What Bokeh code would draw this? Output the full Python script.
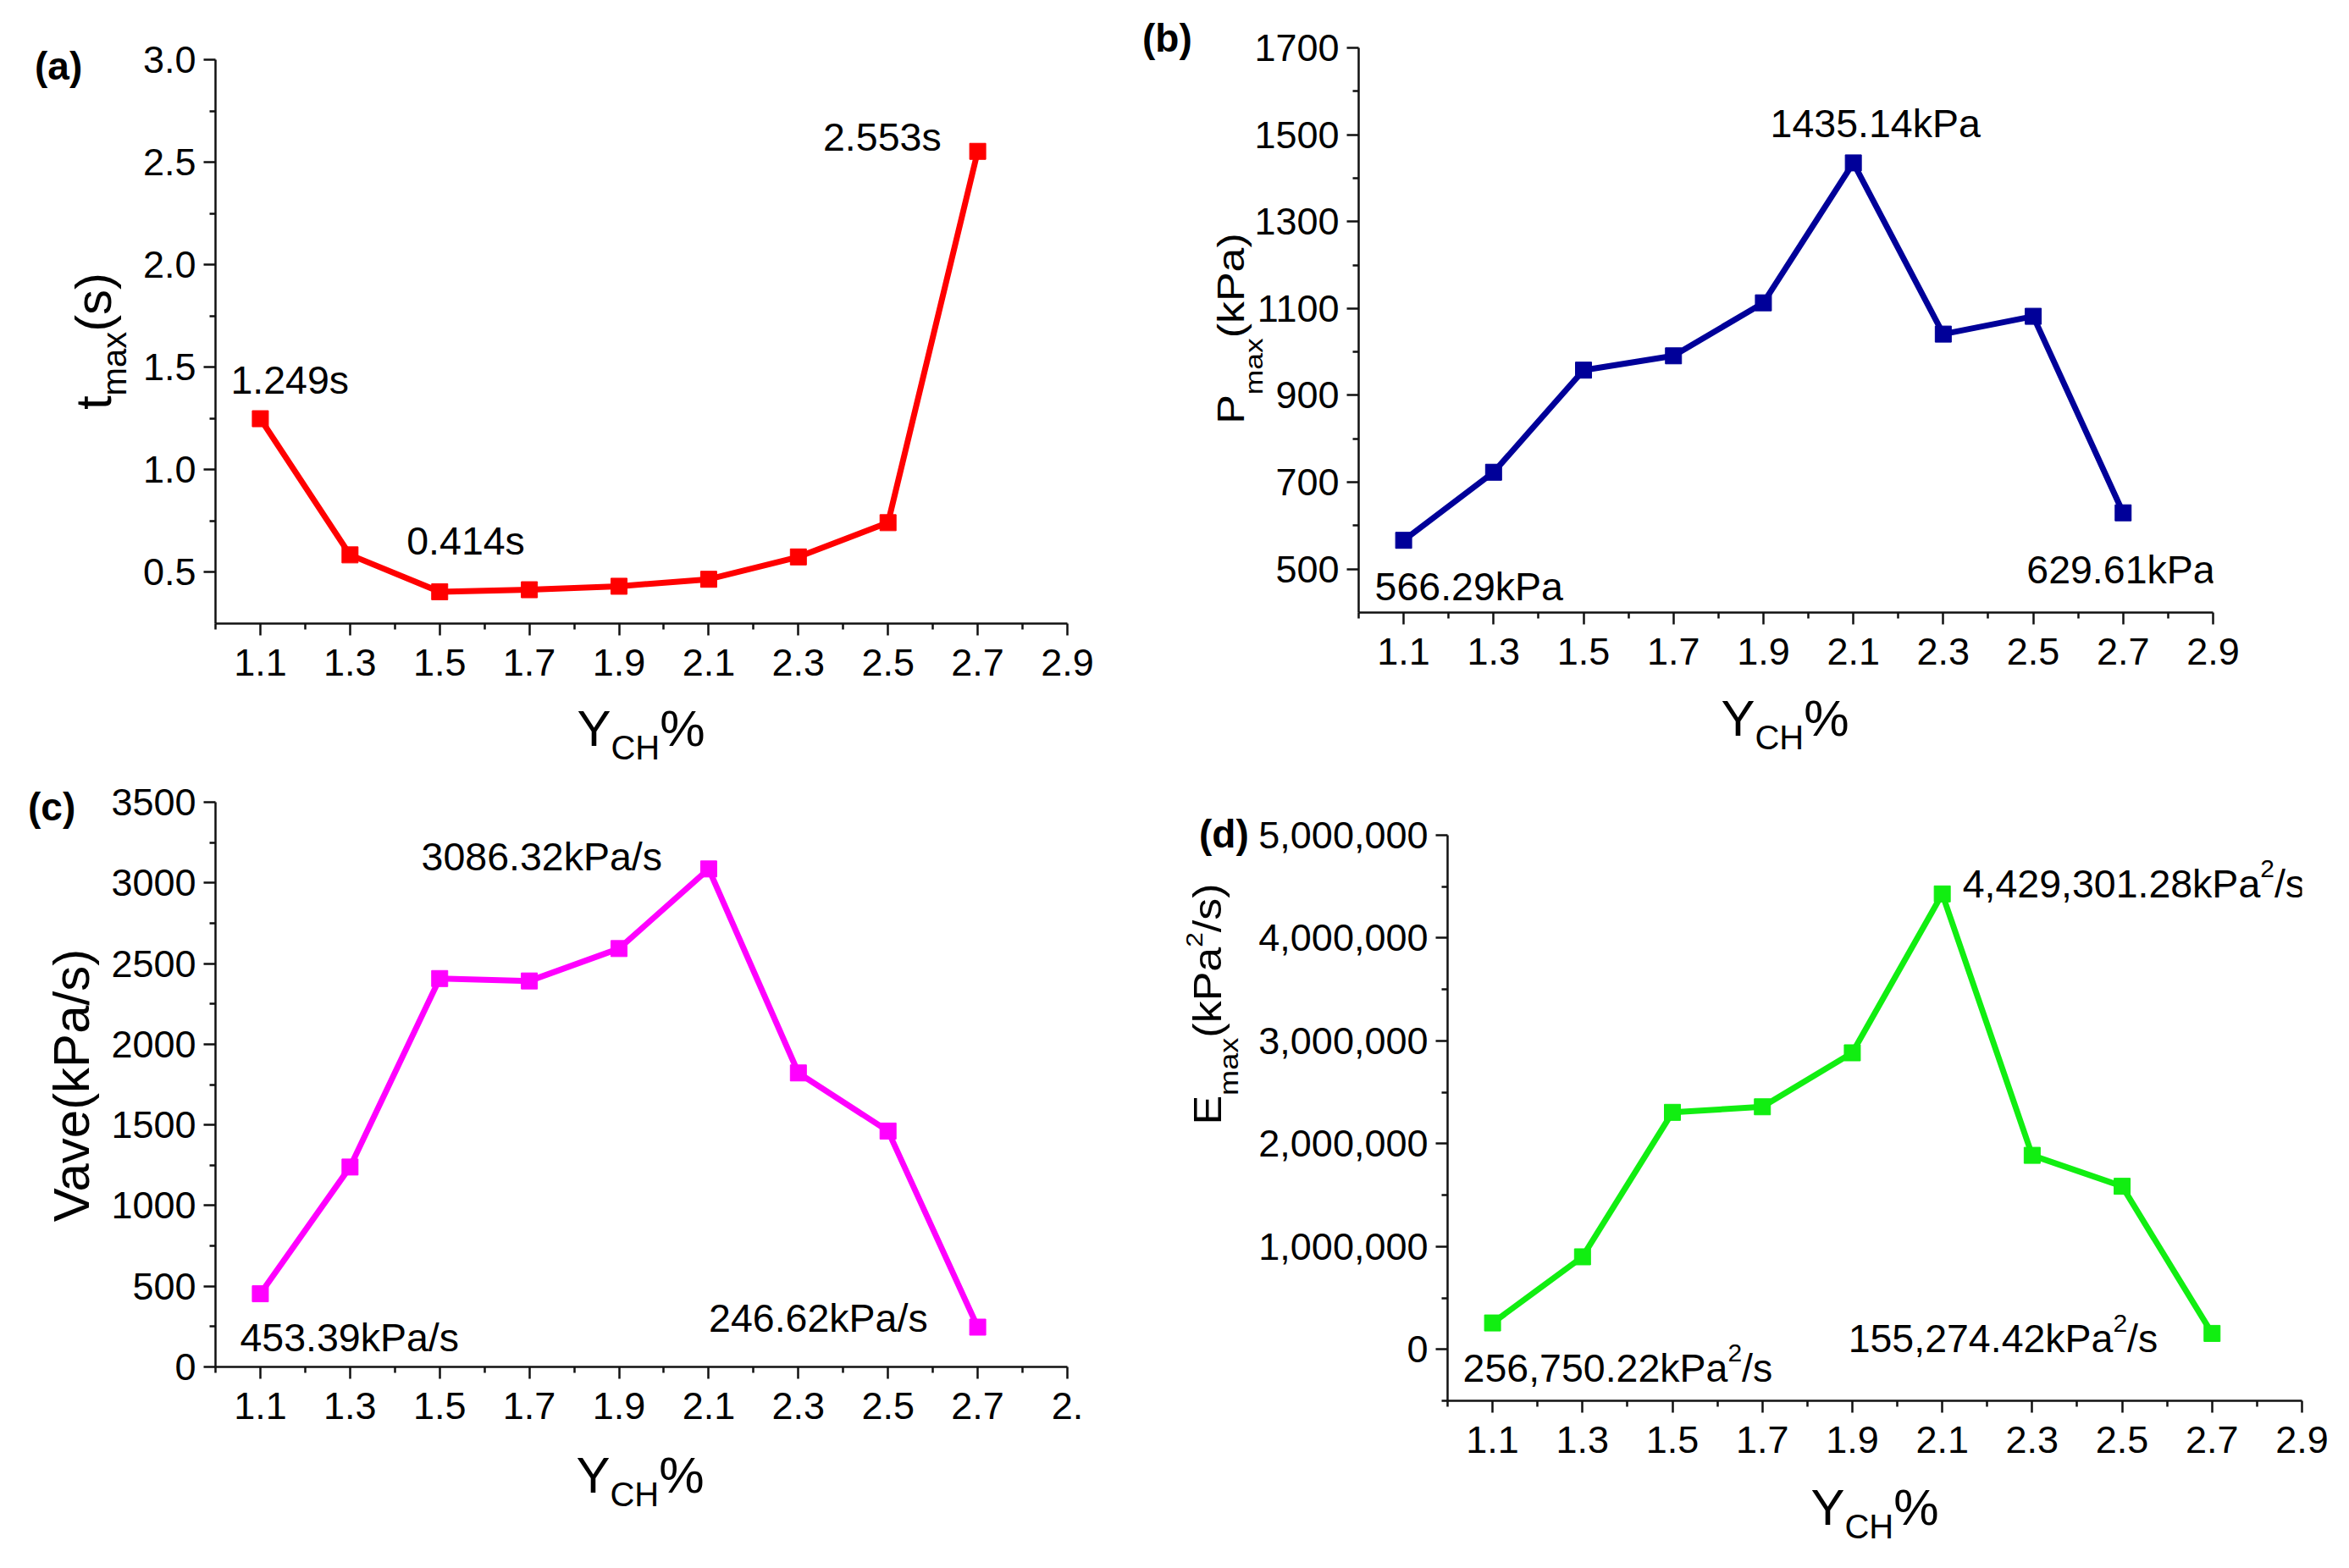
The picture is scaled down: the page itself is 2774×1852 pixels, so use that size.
from bokeh.plotting import figure
from bokeh.models import Range1d, FixedTicker, Label, NumeralTickFormatter, Row, Column, Div
from bokeh.embed import file_html
from bokeh.resources import INLINE

FONT = "Liberation Sans"

# data
y_ch = [1.1, 1.3, 1.5, 1.7, 1.9, 2.1, 2.3, 2.5, 2.7]
t_max = [1.249, 0.585, 0.405, 0.415, 0.432, 0.466, 0.575, 0.742, 2.553]
p_max = [566.29, 723, 958, 991, 1113, 1435.14, 1041, 1082, 629.61]
v_ave = [453.39, 1239, 2407, 2392, 2593, 3086.32, 1822, 1462, 246.62]
e_max = [256750.22, 900000, 2305000, 2359000, 2884000, 4429301.28, 1887000, 1586000, 155274.42]

x_ticks = [1.1, 1.3, 1.5, 1.7, 1.9, 2.1, 2.3, 2.5, 2.7, 2.9]
x_minor = [1.0, 1.2, 1.4, 1.6, 1.8, 2.0, 2.2, 2.4, 2.6, 2.8]

t_ticks = [0.5, 1.0, 1.5, 2.0, 2.5, 3.0]
t_minor = [0.75, 1.25, 1.75, 2.25, 2.75]
p_ticks = [500, 700, 900, 1100, 1300, 1500, 1700]
p_minor = [600, 800, 1000, 1200, 1400, 1600]
v_ticks = [0, 500, 1000, 1500, 2000, 2500, 3000, 3500]
v_minor = [250, 750, 1250, 1750, 2250, 2750, 3250]
e_ticks = [0, 1000000, 2000000, 3000000, 4000000, 5000000]
e_minor = [-500000, 500000, 1500000, 2500000, 3500000, 4500000]

# Arial / Liberation Sans advance widths (per 1000 em)
ADV = {c: 556 for c in "0123456789aekdb"}
ADV.update({",": 278, ".": 278, "/": 278, "(": 333, ")": 333, "%": 889, "t": 278,
            "m": 833, "x": 500, "s": 500, "k": 500, "v": 500, "P": 667, "V": 667,
            "E": 667, "Y": 667, "C": 722, "H": 722})

ANN = 46.5  # annotation font size
LIFT = 12   # baseline correction for Label text


def seg_width(text, size):
    return sum(ADV.get(c, 556) for c in text) * size / 1000.0


def rich(p, segs, x, y, align="left", dx=0, dy=0):
    # data-anchored label made of pieces (text, size, rise)
    total = sum(seg_width(t, s) for t, s, r in segs)
    cur = {"left": 0.0, "center": -total / 2, "right": -total}[align]
    for t, s, r in segs:
        p.add_layout(Label(x=x, y=y, text=t, x_offset=dx + cur, y_offset=dy + r + LIFT,
                           text_font=FONT, text_font_size=f"{s}px",
                           text_align="left", text_baseline="alphabetic", text_color="black"))
        cur += seg_width(t, s)


ASC = 0.8465  # baseline below the top of a line-height:1 box


def sub(t, size=40, drop=15):
    return (f'<sub style="font-size:{size}px;vertical-align:baseline;position:relative;'
            f'top:{drop}px;line-height:1;">{t}</sub>')


def sup(t, size=40, rise=24):
    return (f'<sup style="font-size:{size}px;vertical-align:baseline;position:relative;'
            f'top:-{rise}px;line-height:1;">{t}</sup>')


def htext(html, x, base, size, center=True, bold=False):
    tr = "translateX(-50%)" if center else "none"
    return (f'<span style="position:absolute;left:{x}px;top:{base - ASC * size:.1f}px;'
            f"font-family:'{FONT}';font-size:{size}px;line-height:1;white-space:nowrap;"
            f'font-weight:{"bold" if bold else "normal"};color:black;transform:{tr};">{html}</span>')


def vtext(html, base_x, cy, size, stretch=1.0):
    return (f'<span style="position:absolute;left:{base_x - ASC * size:.1f}px;top:{cy}px;'
            f"font-family:'{FONT}';font-size:{size}px;line-height:1;white-space:nowrap;color:black;"
            f'transform-origin:0 0;transform:rotate(-90deg) scale({stretch},1) translateX(-50%);">'
            f'{html}</span>')


def box(w, h, parts):
    html = f'<div style="position:relative;width:{w}px;height:{h}px;">{"".join(parts)}</div>'
    return Div(text=html, width=w, height=h, margin=0, styles={"overflow": "visible"})


def panel(ys, color, yr, yt, ym, borders, frame):
    left, right, top, bottom = borders
    fw, fh = frame
    p = figure(frame_width=fw, frame_height=fh, min_border_left=left, min_border_right=right,
               min_border_top=top, min_border_bottom=bottom,
               x_range=Range1d(1.0, 2.9), y_range=Range1d(*yr),
               output_backend="svg", toolbar_location=None, margin=0)
    p.outline_line_color = None
    p.border_fill_color = None
    p.grid.visible = False
    p.xaxis.ticker = FixedTicker(ticks=x_ticks, minor_ticks=x_minor)
    p.yaxis.ticker = FixedTicker(ticks=yt, minor_ticks=ym)
    for ax in (p.xaxis[0], p.yaxis[0]):
        ax.axis_line_width = 2.5
        ax.axis_line_color = "#111111"
        ax.major_tick_line_width = 2.5
        ax.minor_tick_line_width = 2.5
        ax.major_tick_line_color = "#111111"
        ax.minor_tick_line_color = "#111111"
        ax.major_tick_in = 0
        ax.major_tick_out = 14
        ax.minor_tick_in = 0
        ax.minor_tick_out = 7
        ax.major_label_text_font = FONT
        ax.major_label_text_font_size = "45px"
        ax.major_label_text_color = "black"
    p.xaxis.major_label_standoff = 16
    p.yaxis.major_label_standoff = 9
    p.line(y_ch, ys, line_color=color, line_width=7)
    p.scatter(y_ch, ys, marker="square", size=19, fill_color=color, line_color=color)
    return p


XLAB = "Y" + sub("CH", 40, 16) + "%"
KPA2 = [("kPa", ANN, 0), ("2", 30, 18), ("/s", ANN, 0)]

# (a)
pa = panel(t_max, "#FF0000", (0.25, 3.0), t_ticks, t_minor, (102, 42, 63, 100), (1006, 666))
pa.yaxis.formatter = NumeralTickFormatter(format="0.0")
rich(pa, [("1.249s", ANN, 0)], y_ch[0], t_max[0], dx=-35, dy=34)
rich(pa, [("0.414s", ANN, 0)], y_ch[2], t_max[2], dx=-39, dy=48)
rich(pa, [("2.553s", ANN, 0)], y_ch[8], t_max[8], align="right", dx=-43, dy=5)
la = box(142, 900, [htext("(a)", 31, 87, 46, center=False, bold=True),
                    vtext("t" + sub("max", 40, 18) + "(s)", 122, 396, 60)])
xa = box(1150, 71, [htext(XLAB, 605, 46, 60)])

# (b)
pb = panel(p_max, "#000099", (400, 1700), p_ticks, p_minor, (130, 155, 49, 100), (1009, 667))
rich(pb, [("1435.14kPa", ANN, 0)], y_ch[5], p_max[5], align="center", dx=26, dy=34)
rich(pb, [("566.29kPa", ANN, 0)], y_ch[0], p_max[0], dx=-34, dy=-67)
rich(pb, [("629.61kPa", ANN, 0)], y_ch[8], p_max[8], dx=-114, dy=-79)
lb = box(172, 900, [htext("(b)", 47, 54, 46, center=False, bold=True),
                    vtext("P" + sub("max", 30, 22) + "(kPa)", 167, 381, 44, 1.18)])
xb = box(1294, 84, [htext(XLAB, 634, 47, 60)])

# (c)
pc = panel(v_ave, "#FF00FF", (0, 3500), v_ticks, v_minor, (130, 42, 40, 100), (1006, 667))
pc.xaxis.major_label_overrides = {2.9: "2."}
rich(pc, [("3086.32kPa/s", ANN, 0)], y_ch[5], v_ave[5], align="right", dx=-55, dy=2)
rich(pc, [("453.39kPa/s", ANN, 0)], y_ch[0], v_ave[0], dx=-24, dy=-64)
rich(pc, [("246.62kPa/s", ANN, 0)], y_ch[8], v_ave[8], align="right", dx=-59, dy=-1)
lc = box(114, 929, [htext("(c)", 23, 62, 46, center=False, bold=True),
                    vtext("Vave(kPa/s)", 96, 375, 60)])
xc = box(1178, 122, [htext(XLAB, 632, 50, 60)])

# (d)
pd = panel(e_max, "#11EE11", (-500000, 5000000), e_ticks, e_minor, (230, 50, 79, 100), (1009, 668))
pd.yaxis.formatter = NumeralTickFormatter(format="0,0")
rich(pd, [("4,429,301.28", ANN, 0)] + KPA2, y_ch[5], e_max[5], dx=24, dy=0)
rich(pd, [("256,750.22", ANN, 0)] + KPA2, y_ch[0], e_max[0], dx=-35, dy=-65)
rich(pd, [("155,274.42", ANN, 0)] + KPA2, y_ch[8], e_max[8], align="right", dx=-64, dy=-18)
ld = box(177, 929, [htext("(d)", 114, 94, 46, center=False, bold=True),
                    vtext("E" + sub("max", 32, 20) + "(kPa" + sup("2", 28, 22) + "/s)",
                          140, 279, 46, 1.13)])
xd = box(1289, 82, [htext(XLAB, 735, 48, 60)])

top = Row(children=[la, Column(children=[pa, xa]), lb, Column(children=[pb, xb])])
bottom = Row(children=[lc, Column(children=[pc, xc]), ld, Column(children=[pd, xd])])
body = Column(children=[Div(text="", width=10, height=7, margin=0), top, bottom])
layout = Row(children=[Div(text="", width=10, height=10, margin=0), body])

open("out.html", "w").write(file_html(layout, INLINE))
